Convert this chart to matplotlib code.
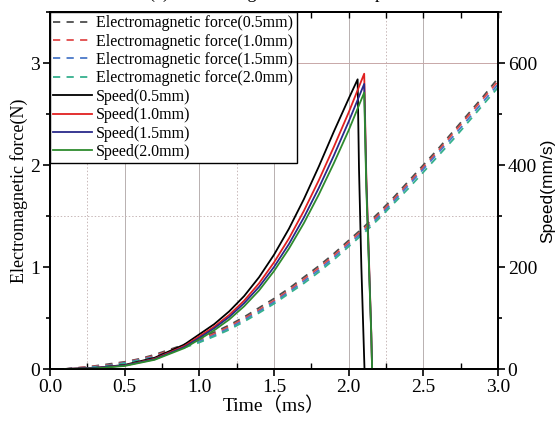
import matplotlib
matplotlib.use("Agg")
import matplotlib.pyplot as plt
from matplotlib.ticker import MultipleLocator

plt.rcParams['font.family'] = ['Liberation Serif', 'Noto Sans CJK SC']

# electromagnetic force (N) for the four air gaps
t_force = [0.1, 0.25, 0.4, 0.5, 0.6, 0.7, 0.8, 0.9, 1.0, 1.1, 1.2, 1.3, 1.4, 1.5, 1.6,
           1.7, 1.8, 1.9, 2.0, 2.1, 2.2, 2.3, 2.4, 2.5, 2.6, 2.7, 2.8, 2.9, 3.0]
force_05 = [0, 0.02, 0.05, 0.07, 0.10, 0.14, 0.19, 0.24, 0.30, 0.36, 0.43, 0.51, 0.60, 0.69, 0.79,
            0.90, 1.01, 1.13, 1.26, 1.39, 1.53, 1.68, 1.84, 2.00, 2.16, 2.33, 2.50, 2.67, 2.85]
force_10 = [0, 0.02, 0.04, 0.065, 0.095, 0.13, 0.18, 0.23, 0.285, 0.345, 0.415, 0.495, 0.58, 0.67, 0.77,
            0.88, 0.99, 1.11, 1.24, 1.37, 1.51, 1.66, 1.82, 1.98, 2.14, 2.31, 2.48, 2.65, 2.82]
force_15 = [0, 0.015, 0.035, 0.06, 0.09, 0.12, 0.17, 0.22, 0.27, 0.33, 0.40, 0.48, 0.565, 0.655, 0.755,
            0.86, 0.97, 1.09, 1.22, 1.35, 1.49, 1.64, 1.80, 1.96, 2.12, 2.28, 2.45, 2.62, 2.79]
force_20 = [0, 0.01, 0.03, 0.055, 0.085, 0.11, 0.16, 0.21, 0.26, 0.32, 0.385, 0.465, 0.55, 0.64, 0.74,
            0.84, 0.95, 1.07, 1.20, 1.33, 1.47, 1.62, 1.77, 1.93, 2.09, 2.25, 2.42, 2.59, 2.76]

# armature speed (mm/s)
t_speed_05 = [0.1, 0.3, 0.5, 0.7, 0.9, 1.0, 1.1, 1.2, 1.3, 1.4, 1.5, 1.6, 1.7, 1.8, 1.9, 2.0,
              2.06, 2.069, 2.085, 2.106]
speed_05 = [0, 2, 8, 22, 48, 68, 88, 113, 143, 180, 224, 275, 333, 397, 465, 530,
            568, 395, 200, 0]
t_speed = [0.1, 0.3, 0.5, 0.7, 0.9, 1.0, 1.1, 1.2, 1.3, 1.4, 1.5, 1.6, 1.7, 1.8, 1.9, 2.0,
           2.104, 2.118, 2.151, 2.157]
speed_10 = [0, 2, 7, 20, 45, 64, 83, 106, 134, 168, 209, 256, 310, 370, 435, 503,
            579, 380, 75, 0]
speed_15 = [0, 2, 7, 19, 43, 61, 80, 102, 129, 161, 200, 245, 297, 355, 418, 485,
            559, 368, 72, 0]
speed_20 = [0, 1, 6, 18, 41, 58, 76, 97, 123, 154, 192, 236, 286, 342, 403, 468,
            542, 356, 70, 0]

gaps = ['0.5mm', '1.0mm', '1.5mm', '2.0mm']
force_colors = ['#4d4d4d', '#e04a4a', '#4a78c8', '#35b08e']
speed_colors = ['#000000', '#e02020', '#2a2a8a', '#2e8b2e']

fig = plt.figure(figsize=(5.58, 4.26), dpi=100)
ax = fig.add_axes([50 / 558, 1 - 369 / 426, 448 / 558, 357 / 426])
ax2 = ax.twinx()

# background grid
for x in [0.5, 1.0, 1.5, 2.0, 2.5]:
    ax.axvline(x, color='#b8b0b0', lw=0.7, zorder=0)
for x in [0.25, 1.25, 2.25]:
    ax.axvline(x, color='#c8b8b8', lw=0.7, ls=(0, (1.5, 2)), zorder=0)
ax.axhline(3.0, color='#c8a8a8', lw=0.7, zorder=0)
ax.axhline(1.5, color='#c8b8b8', lw=0.7, ls=(0, (1.5, 2)), zorder=0)

handles = []
for f, c, g in zip([force_05, force_10, force_15, force_20], force_colors, gaps):
    h, = ax.plot(t_force, f, color=c, lw=1.3, dashes=(4, 3.5),
                 label='Electromagnetic force(' + g + ')')
    handles.append(h)

speed_t = [t_speed_05, t_speed, t_speed, t_speed]
for tt, v, c, g in zip(speed_t, [speed_05, speed_10, speed_15, speed_20], speed_colors, gaps):
    h, = ax2.plot(tt, v, color=c, lw=1.3, label='Speed(' + g + ')')
    handles.append(h)

ax.set_xlim(0, 3.0)
ax.set_ylim(0, 3.5)
ax2.set_ylim(0, 700)

ax.xaxis.set_major_locator(MultipleLocator(0.5))
ax.xaxis.set_minor_locator(MultipleLocator(0.25))
ax.yaxis.set_major_locator(MultipleLocator(1))
ax.yaxis.set_minor_locator(MultipleLocator(0.5))
ax2.yaxis.set_major_locator(MultipleLocator(200))
ax2.yaxis.set_minor_locator(MultipleLocator(100))

ax.tick_params(axis='x', which='major', direction='out', length=5, width=1.2, labelsize=14, pad=2)
ax.tick_params(axis='x', which='minor', direction='in', length=4, width=1.0)
ax.tick_params(axis='y', which='both', direction='out', width=1.2, labelsize=14, pad=2)
ax.tick_params(axis='y', which='major', length=5)
ax.tick_params(axis='y', which='minor', length=3)
ax2.tick_params(axis='y', which='both', direction='out', width=1.2, labelsize=14, pad=2)
ax2.tick_params(axis='y', which='major', length=5)
ax2.tick_params(axis='y', which='minor', length=3)

# ticks along the top edge
top = ax.secondary_xaxis('top')
top.xaxis.set_major_locator(MultipleLocator(0.25))
top.tick_params(direction='in', length=4, width=1.0, labeltop=False)
top.spines['top'].set_linewidth(1.3)

for a in (ax, ax2):
    for s in a.spines.values():
        s.set_linewidth(1.3)

ax.set_xlabel('Time（ms）', fontsize=14, labelpad=1)
ax.set_ylabel('Electromagnetic force(N)', fontsize=13, labelpad=2)
ax2.set_ylabel('Speed(mm/s)', fontsize=12.5, family='Liberation Sans', labelpad=2)

leg = ax2.legend(handles=handles, loc='upper left', bbox_to_anchor=(0, 1), borderaxespad=0,
                 fontsize=11.5, frameon=True, fancybox=False, framealpha=1,
                 edgecolor='black', handlelength=2.4, handletextpad=0.3,
                 labelspacing=0.15, borderpad=0.2)
leg.get_frame().set_linewidth(1.0)

# caption sits above the figure edge, only its lowest strokes show
fig.text(0.5, 1 + 2 / 426, '(a) Electromagnetic force and speed', fontsize=13,
         ha='center', va='baseline')

fig.savefig('out.png', dpi=100)
